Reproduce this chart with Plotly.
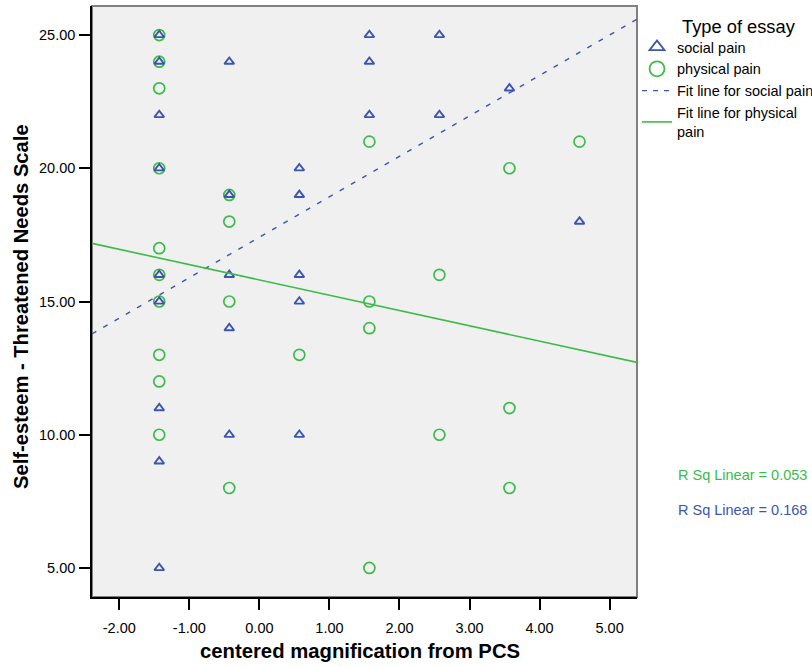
import plotly.graph_objects as go

# --- data ---
social_x = [-1.43]*9 + [-0.43]*5 + [0.57]*5 + [1.57]*3 + [2.57]*2 + [3.57] + [4.57]
social_y = [25, 24, 22, 20, 16, 15, 11, 9, 5,
            24, 19, 16, 14, 10,
            20, 19, 16, 15, 10,
            25, 24, 22,
            25, 22,
            23,
            18]
physical_x = [-1.43]*10 + [-0.43]*4 + [0.57] + [1.57]*4 + [2.57]*2 + [3.57]*3 + [4.57]
physical_y = [25, 24, 23, 20, 17, 16, 15, 13, 12, 10,
              19, 18, 15, 8,
              13,
              21, 15, 14, 5,
              16, 10,
              20, 11, 8,
              21]
# fit lines (intercept, slope)
social_fit = (17.41, 1.518)
physical_fit = (15.81, -0.574)
r2_social = 0.168
r2_physical = 0.053

x_range = [-2.39, 5.391]
y_range = [3.91, 26.09]
y_ticks = [5, 10, 15, 20, 25]
x_ticks = [-2, -1, 0, 1, 2, 3, 4, 5]
x_ticktext = [f"{v:.2f}" for v in x_ticks]
y_ticktext = [f"{v:.2f}" for v in y_ticks]

BLUE = "#3d55b0"
GREEN = "#3cbb4a"
ARIAL = "Liberation Sans, Arial, sans-serif"

W, H = 812, 667
L, R, T, B = 92, 175, 6, 70
PW, PH = W - L - R, H - T - B


def px(xp):
    return (xp - L) / PW


def py(yp):
    return 1 - (yp - T) / PH


fig = go.Figure()

# data traces (physical drawn first so triangles sit on top)
fig.add_trace(go.Scatter(
    x=physical_x, y=physical_y, mode="markers", showlegend=False,
    marker=dict(symbol="circle-open", size=11, color=GREEN, line=dict(width=1.7, color=GREEN)),
))
fig.add_trace(go.Scatter(
    x=social_x, y=social_y, mode="markers", showlegend=False,
    marker=dict(symbol="triangle-up-open", size=8.5, color=BLUE, line=dict(width=1.9, color=BLUE)),
))

fig.add_trace(go.Scatter(
    x=x_range, y=[social_fit[0] + social_fit[1]*v for v in x_range], mode="lines",
    showlegend=False, line=dict(color=BLUE, width=1.4, dash="5px,8px"),
))
fig.add_trace(go.Scatter(
    x=x_range, y=[physical_fit[0] + physical_fit[1]*v for v in x_range], mode="lines",
    showlegend=False, line=dict(color=GREEN, width=1.6),
))

# legend entries
fig.add_trace(go.Scatter(x=[None], y=[None], mode="markers", name="social pain", legendgroup="a",
                         marker=dict(symbol="triangle-up-open", size=13, color=BLUE, line=dict(width=1.8, color=BLUE))))
fig.add_trace(go.Scatter(x=[None], y=[None], mode="markers", name="physical pain", legendgroup="b",
                         marker=dict(symbol="circle-open", size=15, color=GREEN, line=dict(width=1.8, color=GREEN))))
fig.add_trace(go.Scatter(x=[None], y=[None], mode="lines", name="Fit line for social pain", legendgroup="c",
                         line=dict(color=BLUE, width=1.4, dash="5px,6px")))
fig.add_trace(go.Scatter(x=[None], y=[None], mode="lines", name="Fit line for physical<br>pain", legendgroup="d",
                         line=dict(color=GREEN, width=1.6)))

fig.update_layout(
    width=W, height=H,
    margin=dict(l=L, r=R, t=T, b=B, autoexpand=False),
    paper_bgcolor="white", plot_bgcolor="#f0f0f0",
    font=dict(family=ARIAL, color="black"),
    showlegend=True,
    legend=dict(
        x=px(637), xanchor="left", y=py(31), yanchor="top",
        bgcolor="rgba(0,0,0,0)", font=dict(size=14.5, family=ARIAL),
        traceorder="grouped", tracegroupgap=0, itemwidth=30,
    ),
    xaxis=dict(
        range=x_range, tickvals=x_ticks, ticktext=x_ticktext,
        showgrid=False, zeroline=False, showline=True, linecolor="black", linewidth=1.5,
        ticks="outside", ticklen=11, tickwidth=1.5, tickcolor="black",
        tickfont=dict(family=ARIAL, size=14.5), ticklabelstandoff=6,
    ),
    yaxis=dict(
        range=y_range, tickvals=y_ticks, ticktext=y_ticktext,
        showgrid=False, zeroline=False, showline=True, linecolor="black", linewidth=1.5,
        ticks="outside", ticklen=11, tickwidth=1.5, tickcolor="black",
        tickfont=dict(family=ARIAL, size=14.5), ticklabelstandoff=1,
    ),
)

# frame (top & right gray)
fig.add_shape(type="rect", xref="paper", yref="paper", x0=0, x1=1, y0=0, y1=1,
              line=dict(color="#808080", width=2), layer="below")

# axis titles
fig.add_annotation(xref="paper", yref="paper", x=px(360), y=py(651), xanchor="center", yanchor="middle",
                   showarrow=False, text="<b>centered magnification from PCS</b>",
                   font=dict(family=ARIAL, size=20.3))
fig.add_annotation(xref="paper", yref="paper", x=px(21), y=py(307), xanchor="center", yanchor="middle",
                   showarrow=False, textangle=-90, text="<b>Self-esteem - Threatened Needs Scale</b>",
                   font=dict(family=ARIAL, size=20.2))
# legend title
fig.add_annotation(xref="paper", yref="paper", x=px(739), y=py(26), xanchor="center", yanchor="middle",
                   showarrow=False, text="Type of essay", font=dict(family=ARIAL, size=18.3))

fig.add_annotation(xref="paper", yref="paper", x=px(676), y=py(475),
                   xanchor="left", yanchor="middle", showarrow=False,
                   text=f"R Sq Linear = {r2_physical:.3f}", font=dict(size=14.5, color=GREEN, family=ARIAL))
fig.add_annotation(xref="paper", yref="paper", x=px(676), y=py(510),
                   xanchor="left", yanchor="middle", showarrow=False,
                   text=f"R Sq Linear = {r2_social:.3f}", font=dict(size=14.5, color=BLUE, family=ARIAL))

fig.write_html("out.html")
